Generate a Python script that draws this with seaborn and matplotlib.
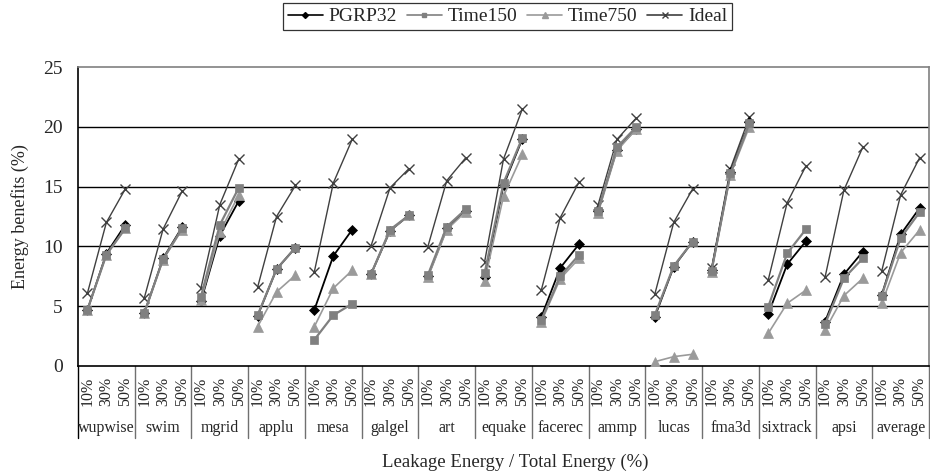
import numpy as np
import pandas as pd
import matplotlib
matplotlib.use("Agg")
import matplotlib.pyplot as plt
import matplotlib.transforms as mtransforms
from matplotlib.lines import Line2D
import seaborn as sns

benchmarks = ["wupwise", "swim", "mgrid", "applu", "mesa", "galgel", "art",
              "equake", "facerec", "ammp", "lucas", "fma3d", "sixtrack", "apsi", "average"]
leak_levels = ["10%", "30%", "50%"]

pgrp32 = [4.7, 9.4, 11.8,   4.4, 9.0, 11.6,   5.4, 10.9, 13.8,   4.2, 8.1, 9.9,
          4.7, 9.2, 11.4,   7.7, 11.3, 12.6,  7.5, 11.5, 13.0,   7.4, 15.1, 19.0,
          4.1, 8.2, 10.2,   13.0, 18.1, 19.8, 4.1, 8.3, 10.4,   8.0, 16.2, 20.4,
          4.35, 8.5, 10.45, 3.7, 7.66, 9.56, 5.94, 11.0, 13.2]
time150 = [4.7, 9.3, 11.5,  4.4, 8.95, 11.5,  5.8, 11.8, 14.9,  4.25, 8.1, 9.9,
           2.2, 4.25, 5.2,  7.7, 11.4, 12.6,  7.6, 11.65, 13.1, 7.75, 15.3, 19.1,
           3.85, 7.5, 9.3,  12.96, 18.3, 19.95, 4.26, 8.36, 10.4, 7.94, 16.1, 20.3,
           4.96, 9.42, 11.45, 3.5, 7.33, 9.0, 5.88, 10.7, 12.85]
time750 = [4.7, 9.3, 11.5,  4.4, 8.9, 11.4,   5.5, 11.2, 14.3,   3.3, 6.2, 7.6,
           3.3, 6.5, 8.0,   7.7, 11.3, 12.6,  7.4, 11.4, 12.9,   7.1, 14.2, 17.7,
           3.7, 7.3, 9.0,   12.8, 18.0, 19.8, 0.36, 0.78, 0.98, 7.9, 16.0, 20.0,
           2.73, 5.24, 6.35, 3.0, 5.88, 7.33, 5.24, 9.47, 11.37]
ideal = [6.1, 12.0, 14.8,  5.66, 11.45, 14.6, 6.5, 13.5, 17.3,  6.6, 12.5, 15.1,
         7.9, 15.3, 18.95, 10.06, 14.9, 16.5, 9.98, 15.5, 17.4,  8.7, 17.3, 21.5,
         6.35, 12.4, 15.4, 13.46, 18.95, 20.7, 6.0, 12.0, 14.8,  8.17, 16.5, 20.8,
         7.2, 13.65, 16.75, 7.4, 14.7, 18.3, 7.94, 14.3, 17.4]

series = {"PGRP32": pgrp32, "Time150": time150, "Time750": time750, "Ideal": ideal}

rows = []
for name, vals in series.items():
    for i, v in enumerate(vals):
        rows.append({"series": name, "pos": i, "group": benchmarks[i // 3],
                     "level": leak_levels[i % 3], "value": v})
df = pd.DataFrame(rows)

sns.set_style("white")
plt.rcParams["font.family"] = ["Liberation Serif", "DejaVu Serif"]

fig = plt.figure(figsize=(9.3, 4.74), dpi=100)
ax = fig.add_axes([78 / 930, 1 - 366 / 474, 851 / 930, 299 / 474])

styles = {
    "PGRP32": dict(color="#000000", marker="D", ms=5, lw=1.3, mec="#000000", mfc="#000000"),
    "Time150": dict(color="#808080", marker="s", ms=6, lw=1.6, mec="#808080", mfc="#808080"),
    "Time750": dict(color="#9a9a9a", marker="^", ms=6.5, lw=1.2, mec="#9a9a9a", mfc="#9a9a9a"),
    "Ideal": dict(color="#404040", marker="x", ms=7, lw=1.0, mec="#404040", mfc="#404040"),
}
draw_order = ["Ideal", "PGRP32", "Time750", "Time150"]
for name in draw_order:
    st = styles[name]
    sub = df[df["series"] == name]
    sns.lineplot(data=sub, x="pos", y="value", units="group", estimator=None,
                 color=st["color"], lw=st["lw"], marker=st["marker"], markersize=st["ms"],
                 markeredgecolor=st["mec"], markerfacecolor=st["mfc"],
                 markeredgewidth=1.0 if name == "Ideal" else 0.5,
                 ax=ax, legend=False, zorder=3)

ax.set_xlim(-0.5, len(pgrp32) - 0.5)
ax.set_ylim(0, 25)
ax.set_yticks([0, 5, 10, 15, 20, 25])
ax.set_xticks([])
ax.set_xlabel("")
ax.set_ylabel("")
ax.tick_params(axis="y", length=0, pad=11, labelsize=14)
for y in [5, 10, 15, 20]:
    ax.axhline(y, color="#000000", lw=1.0, zorder=1)
for side in ["left", "bottom"]:
    ax.spines[side].set_color("#000000")
    ax.spines[side].set_linewidth(1.2)
for side in ["top", "right"]:
    ax.spines[side].set_color("#808080")
    ax.spines[side].set_linewidth(1.2)

trans = mtransforms.blended_transform_factory(ax.transData, ax.transAxes)
sep_bottom = -(438 - 366) / 299
for g in range(len(benchmarks) + 1):
    xg = 3 * g - 0.5
    ax.plot([xg, xg], [0, sep_bottom], transform=trans,
            color="#000000" if g == 0 else "#707070", lw=1.0, clip_on=False)
for i in range(len(pgrp32)):
    ax.text(i, -11 / 299, leak_levels[i % 3], transform=trans, rotation=90,
            ha="center", va="top", fontsize=11.5)
for g, b in enumerate(benchmarks):
    ax.text(3 * g + 1, -(428 - 366) / 299, b, transform=trans, ha="center", va="center",
            fontsize=11.5)

fig.text(20 / 930, 1 - 216.5 / 474, "Energy benefits (%)", rotation=90,
         ha="center", va="center", fontsize=13)
fig.text(515 / 930, 1 - 462 / 474, "Leakage Energy / Total Energy (%)",
         ha="center", va="center", fontsize=13.5)

handles = []
for name in ["PGRP32", "Time150", "Time750", "Ideal"]:
    st = styles[name]
    handles.append(Line2D([0], [0], color=st["color"], lw=1.2, marker=st["marker"],
                          markersize=st["ms"] * 0.6, markeredgecolor=st["mec"],
                          markerfacecolor=st["mfc"], label=name))
leg = fig.legend(handles=handles, loc="upper center", bbox_to_anchor=(507.5 / 930, 1 - 3 / 474),
                 ncol=4, frameon=True, fontsize=14, handlelength=1.8, handletextpad=0.3,
                 columnspacing=0.5, borderpad=0.25, fancybox=False, borderaxespad=0)
leg.get_frame().set_edgecolor("#000000")
leg.get_frame().set_linewidth(0.9)

fig.savefig("out.png", dpi=100)
